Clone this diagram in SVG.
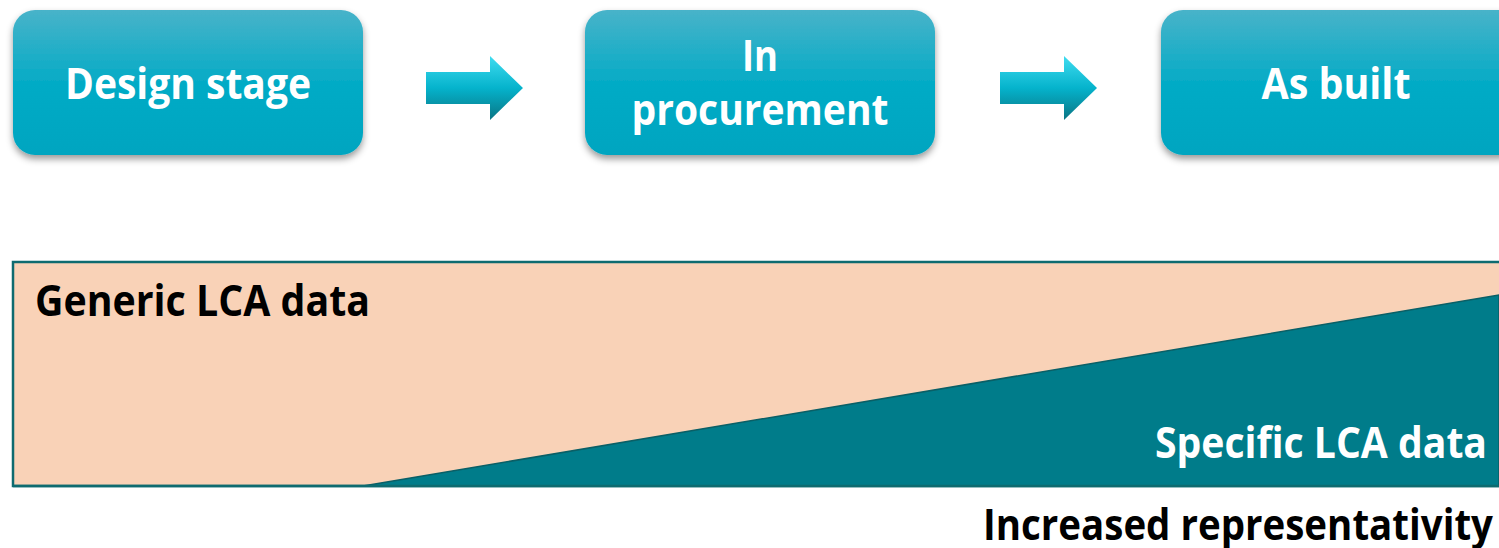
<svg xmlns="http://www.w3.org/2000/svg" width="1499" height="548" viewBox="0 0 1499 548">
<defs>
<linearGradient id="boxg" x1="0" y1="0" x2="0" y2="1">
<stop offset="0" stop-color="#48b3c9"/>
<stop offset="0.5" stop-color="#05abc6"/>
<stop offset="1" stop-color="#00a5c0"/>
</linearGradient>
<linearGradient id="arrg" x1="0" y1="0" x2="0" y2="1">
<stop offset="0" stop-color="#40dcf0"/>
<stop offset="0.5" stop-color="#05b3cc"/>
<stop offset="1" stop-color="#0a7584"/>
</linearGradient>
<filter id="sh" x="-10%" y="-10%" width="120%" height="130%">
<feDropShadow dx="0" dy="4" stdDeviation="3.5" flood-color="#000" flood-opacity="0.4"/>
</filter>
<style>
.box{fill:url(#boxg);filter:url(#sh)}
.arr{fill:url(#arrg)}
.wt{fill:#fff;font-family:"Open Sans","Liberation Sans",sans-serif;font-weight:bold;font-size:43px}
.bt{fill:#000;font-family:"Open Sans","Liberation Sans",sans-serif;font-weight:bold;font-size:43px}
</style>
</defs>
<g id="node-design">
<rect class="box" x="13" y="10" width="350" height="145" rx="22"/>
<text class="wt" x="188" y="99" text-anchor="middle" textLength="246" lengthAdjust="spacingAndGlyphs">Design stage</text>
</g>
<g id="node-procurement">
<rect class="box" x="585" y="10" width="350" height="145" rx="22"/>
<text class="wt" x="760" y="71" text-anchor="middle" textLength="36" lengthAdjust="spacingAndGlyphs">In</text>
<text class="wt" x="760" y="125" text-anchor="middle" textLength="257" lengthAdjust="spacingAndGlyphs">procurement</text>
</g>
<g id="node-asbuilt">
<rect class="box" x="1161" y="10" width="360" height="145" rx="22"/>
<text class="wt" x="1336" y="99" text-anchor="middle" textLength="149" lengthAdjust="spacingAndGlyphs">As built</text>
</g>
<g id="connectors">
<path class="arr" d="M426,72 H490 V56 L523,88 L490,120 V104 H426 Z"/>
<path class="arr" d="M1000,72 H1064 V56 L1097,88 L1064,120 V104 H1000 Z"/>
</g>
<g id="data-band">
<rect x="13" y="262" width="1500" height="224" fill="#f9d2b7" stroke="#0e6b70" stroke-width="2.5"/>
<path d="M363,486 L1499,295 L1499,486 Z" fill="#007c8a" stroke="#0a5f66" stroke-width="1.5"/>
<line x1="13" y1="486" x2="1499" y2="486" stroke="#0e6b70" stroke-width="2.5"/>
<text class="bt" x="35" y="316" textLength="335" lengthAdjust="spacingAndGlyphs">Generic LCA data</text>
<text class="wt" x="1155" y="458" textLength="332" lengthAdjust="spacingAndGlyphs">Specific LCA data</text>
</g>
<text class="bt" x="983" y="540" textLength="510" lengthAdjust="spacingAndGlyphs">Increased representativity</text>
</svg>
